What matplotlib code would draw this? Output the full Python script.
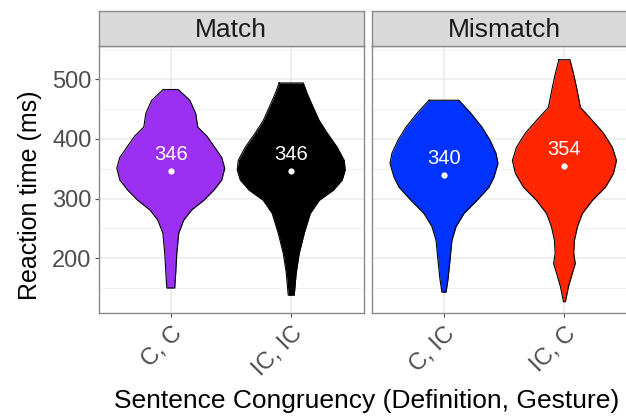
import matplotlib.pyplot as plt
import numpy as np

# Facets and conditions
facets = ["Match", "Mismatch"]
conditions = [["C, C", "IC, IC"], ["C, IC", "IC, C"]]
colors = [["#9B30F2", "#000000"], ["#0033FF", "#FF2600"]]
means = [[346, 346], [340, 354]]

# Violin outlines: reaction time levels (ms) and half widths (x units)
cc_rt = [483, 465, 443, 420, 405, 386, 369, 351, 331, 314, 297, 281, 264, 242, 208, 175, 150]
cc_w = [0.062, 0.158, 0.207, 0.224, 0.299, 0.365, 0.423, 0.448, 0.423, 0.357, 0.274, 0.174, 0.108, 0.066, 0.050, 0.041, 0.033]

icic_rt = [494, 476, 453, 431, 410, 386, 364, 348, 331, 314, 297, 275, 242, 208, 175, 138]
icic_w = [0.100, 0.133, 0.183, 0.232, 0.299, 0.382, 0.440, 0.448, 0.423, 0.349, 0.232, 0.158, 0.108, 0.066, 0.041, 0.025]

cic_rt = [465, 443, 420, 398, 376, 359, 336, 319, 297, 275, 253, 230, 197, 164, 143]
cic_w = [0.124, 0.224, 0.315, 0.382, 0.432, 0.448, 0.415, 0.373, 0.274, 0.166, 0.100, 0.066, 0.050, 0.033, 0.017]

icc_rt = [533, 510, 487, 453, 431, 410, 386, 364, 342, 319, 297, 275, 253, 230, 208, 191, 175, 152, 127]
icc_w = [0.046, 0.075, 0.100, 0.133, 0.232, 0.324, 0.398, 0.432, 0.407, 0.340, 0.232, 0.149, 0.108, 0.083, 0.077, 0.090, 0.066, 0.033, 0.008]

outlines = [[(cc_rt, cc_w), (icic_rt, icic_w)], [(cic_rt, cic_w), (icc_rt, icc_w)]]

yticks = [200, 300, 400, 500]
minor_ticks = [150, 250, 350, 450, 550]

plt.rcParams['font.family'] = ['Liberation Sans', 'DejaVu Sans']

fig = plt.figure(figsize=(6.26, 4.16), dpi=100)

W = 265 / 626
H = (313 - 46) / 416
y0 = 1 - 313 / 416
lefts = [98.5 / 626, 371.7 / 626]
border = "#8a8a8a"

for i, facet in enumerate(facets):
    ax = fig.add_axes([lefts[i], y0, W, H])
    ax.set_xlim(0.4, 2.6)
    ax.set_ylim(108, 556)

    # grid
    for v in minor_ticks:
        ax.axhline(v, color="#F2F2F2", lw=0.7, zorder=0)
    for v in yticks:
        ax.axhline(v, color="#EBEBEB", lw=1.1, zorder=0)
    for x in [1, 2]:
        ax.axvline(x, color="#EBEBEB", lw=1.1, zorder=0)

    for j in range(2):
        rt, w = outlines[i][j]
        rt = np.array(rt)
        w = np.array(w)
        x = j + 1
        ax.fill_betweenx(rt, x - w, x + w, color=colors[i][j], lw=0, zorder=2)
        xs = np.concatenate([x - w, (x + w)[::-1], [x - w[0]]])
        ys = np.concatenate([rt, rt[::-1], [rt[0]]])
        ax.plot(xs, ys, color="black", lw=0.8, zorder=3)
        ax.plot(x, means[i][j], "o", color="white", ms=4.5, mec="none", zorder=4)
        ax.text(x, means[i][j] + 28, str(means[i][j]), color="white",
                ha="center", va="center", fontsize=14.5, zorder=5)

    ax.set_xticks([1, 2])
    ax.set_xticklabels(conditions[i], rotation=45, ha="right", va="top",
                       rotation_mode="anchor", fontsize=17, color="#4D4D4D")
    ax.set_yticks(yticks)
    if i == 0:
        ax.set_yticklabels([str(v) for v in yticks], fontsize=17, color="#4D4D4D")
    else:
        ax.tick_params(axis="y", left=False, labelleft=False)
    ax.tick_params(axis="both", colors="#4D4D4D", length=3, width=0.8, pad=2)
    ax.tick_params(axis="x", pad=4)
    for lbl in ax.get_xticklabels():
        lbl.set_color("#4D4D4D")
    for sp in ax.spines.values():
        sp.set_color(border)
        sp.set_linewidth(1.0)

    # strip
    sax = fig.add_axes([lefts[i], 1 - 46 / 416, W, 35 / 416])
    sax.set_facecolor("#D9D9D9")
    sax.set_xticks([])
    sax.set_yticks([])
    for sp in sax.spines.values():
        sp.set_color(border)
        sp.set_linewidth(1.0)
    sax.text(0.5, 0.45, facet, transform=sax.transAxes, ha="center", va="center",
             fontsize=19, color="#1A1A1A")

fig.text(30 / 626, 1 - 195 / 416, "Reaction time (ms)", rotation=90,
         ha="center", va="center", fontsize=18)
fig.text(367 / 626, 1 - 401 / 416, "Sentence Congruency (Definition, Gesture)",
         ha="center", va="center", fontsize=19)

fig.savefig("out.png", dpi=100)
